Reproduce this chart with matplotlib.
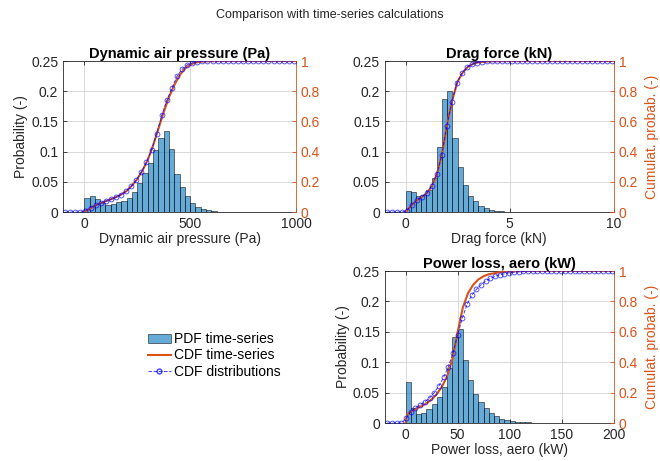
import matplotlib
matplotlib.use("Agg")
import matplotlib.pyplot as plt
from matplotlib.patches import Patch
from matplotlib.lines import Line2D

plt.rcParams['font.family'] = ['Liberation Sans', 'DejaVu Sans']
plt.rcParams['font.size'] = 10

# --- dynamic air pressure (Pa)
p1_bins = [0, 25, 50, 75, 100, 125, 150, 175, 200, 225, 250, 275, 300, 325,
           350, 375, 400, 425, 450, 475, 500, 525, 550, 575, 600, 625]
p1_pdf = [0.024, 0.026, 0.021, 0.015, 0.012, 0.013, 0.016, 0.019, 0.024, 0.034,
          0.048, 0.064, 0.081, 0.103, 0.122, 0.135, 0.104, 0.063, 0.042, 0.027,
          0.015, 0.009, 0.005, 0.003, 0.0015, 0.0008]
p1_cdf_x = [0, 25, 50, 75, 100, 125, 150, 175, 200, 225, 250, 275, 300, 325, 350,
            375, 400, 425, 450, 475, 500, 525, 550, 600, 700, 1000]
p1_cdf = [0, 0.02, 0.042, 0.058, 0.071, 0.084, 0.099, 0.116, 0.14, 0.175, 0.218,
          0.275, 0.345, 0.44, 0.55, 0.66, 0.76, 0.84, 0.905, 0.95, 0.976, 0.99,
          0.996, 0.999, 1, 1]
p1_dist_x = [-90, -66, -42, -18, 6, 30, 54, 78, 102, 126, 150, 174, 198, 222, 246,
             270, 294, 318, 342, 366, 390, 414, 438, 462, 486, 510, 534, 558, 582,
             606, 630, 654, 678, 702, 726, 750, 774, 798, 822, 846, 870, 894, 918,
             942, 966, 990]
p1_dist = [0, 0, 0, 0, 0.01, 0.03, 0.045, 0.059, 0.072, 0.084, 0.099, 0.115, 0.138,
           0.17, 0.21, 0.265, 0.33, 0.41, 0.52, 0.64, 0.74, 0.82, 0.9, 0.946, 0.975,
           0.988, 0.996, 0.999] + [1] * 18

# --- drag force (kN)
p2_bins = [0, 0.25, 0.5, 0.75, 1.0, 1.25, 1.5, 1.75, 2.0, 2.25, 2.5, 2.75, 3.0,
           3.25, 3.5, 3.75, 4.0, 4.25, 4.5, 4.75]
p2_pdf = [0.035, 0.034, 0.026, 0.028, 0.037, 0.056, 0.108, 0.187, 0.2, 0.122,
          0.074, 0.045, 0.027, 0.018, 0.01, 0.006, 0.004, 0.002, 0.001, 0.0005]
p2_cdf_x = [0, 0.25, 0.5, 0.75, 1.0, 1.25, 1.5, 1.75, 2.0, 2.25, 2.5, 2.75, 3.0,
            3.25, 3.5, 4.0, 5.0, 10.0]
p2_cdf = [0, 0.04, 0.072, 0.097, 0.122, 0.17, 0.25, 0.385, 0.585, 0.745, 0.865,
          0.925, 0.963, 0.982, 0.992, 0.998, 1, 1]
p2_dist_x = [-0.9, -0.66, -0.42, -0.18, 0.06, 0.3, 0.54, 0.78, 1.02, 1.26, 1.5,
             1.74, 1.98, 2.22, 2.46, 2.7, 2.94, 3.18, 3.42, 3.66, 3.9, 4.14, 4.38,
             4.62, 4.86, 5.1, 5.34, 5.58, 5.82, 6.06, 6.3, 6.54, 6.78, 7.02, 7.26,
             7.5, 7.74, 7.98, 8.22, 8.46, 8.7, 8.94, 9.18, 9.42, 9.66, 9.9]
p2_dist = [0, 0, 0, 0, 0.01, 0.05, 0.077, 0.1, 0.125, 0.175, 0.25, 0.38, 0.57,
           0.73, 0.855, 0.918, 0.958, 0.978, 0.99, 0.996, 0.999] + [1] * 25

# --- power loss, aero (kW)
p3_bins = [0, 5, 10, 15, 20, 25, 30, 35, 40, 45, 50, 55, 60, 65, 70, 75, 80, 85,
           90, 95, 100, 105, 110, 115, 120, 125]
p3_pdf = [0.067, 0.025, 0.015, 0.017, 0.023, 0.032, 0.042, 0.06, 0.09, 0.142,
          0.155, 0.104, 0.071, 0.048, 0.035, 0.025, 0.017, 0.011, 0.007, 0.005,
          0.003, 0.002, 0.0015, 0.001, 0.0006, 0.0004]
p3_cdf_x = [0, 0.5, 2, 5, 10, 15, 20, 25, 30, 35, 40, 45, 50, 55, 60, 65, 70, 75,
            80, 90, 100, 110, 120, 200]
p3_cdf = [0, 0.03, 0.06, 0.075, 0.095, 0.11, 0.13, 0.155, 0.19, 0.24, 0.31, 0.42,
          0.6, 0.76, 0.855, 0.91, 0.945, 0.966, 0.979, 0.992, 0.997, 0.999, 1, 1]
p3_dist_x = [-17.5, -13, -8.5, -4, 0.5, 5, 9.5, 14, 18.5, 23, 27.5, 32, 36.5, 41,
             45.5, 50, 54.5, 59, 63.5, 68, 72.5, 77, 81.5, 86, 90.5, 95, 99.5, 104,
             108.5, 113, 117.5, 122, 126.5, 131, 135.5, 140, 144.5, 149, 153.5, 158,
             162.5, 167, 171.5, 176, 180.5, 185, 189.5, 194, 198.5]
p3_dist = [0, 0, 0, 0, 0.03, 0.075, 0.1, 0.12, 0.14, 0.165, 0.2, 0.245, 0.3, 0.37,
           0.46, 0.58, 0.69, 0.78, 0.84, 0.88, 0.91, 0.935, 0.952, 0.965, 0.975,
           0.982, 0.988, 0.992, 0.995, 0.997, 0.998, 0.999, 0.9995] + [1] * 16

DARK = '#262626'
ORANGE = '#D95319'
BLUE = '#0072BD'


def panel(rect, bins, pdf, cx, cy, dx, dy, xlim, xticks, title, xlabel,
          left_label=True, right_label=True):
    ax = fig.add_axes(rect)
    width = bins[1] - bins[0]
    ax.bar(bins, pdf, width=width, align='edge', color=BLUE, alpha=0.6,
           edgecolor='black', linewidth=0.6, zorder=2)
    ax.set_xlim(xlim)
    ax.set_ylim(0, 0.25)
    ax.set_xticks(xticks)
    ax.set_yticks([0, 0.05, 0.1, 0.15, 0.2, 0.25])
    ax.set_yticklabels(['0', '0.05', '0.1', '0.15', '0.2', '0.25'])
    ax.grid(True, color='#d3d3d3', linewidth=0.6, zorder=0)
    ax.set_axisbelow(True)
    ax.tick_params(direction='in', colors=DARK, length=3, width=0.6)
    ax.tick_params(axis='x', top=True)
    for s in ['left', 'bottom', 'top']:
        ax.spines[s].set_color(DARK)
        ax.spines[s].set_linewidth(0.6)
    ax.spines['right'].set_visible(False)
    ax.set_title(title, fontweight='bold', fontsize=10.5, pad=2, color='black')
    ax.set_xlabel(xlabel, color=DARK, labelpad=1)
    if left_label:
        ax.set_ylabel('Probability (-)', color=DARK, labelpad=2)

    ax2 = ax.twinx()
    ax2.plot(cx, cy, color=ORANGE, linewidth=1.5, zorder=3)
    ax2.plot(dx, dy, '--o', color='blue', linewidth=0.7, markersize=3.5,
             markerfacecolor='none', markeredgewidth=0.6, alpha=0.75, zorder=4)
    ax2.set_ylim(0, 1)
    ax2.set_yticks([0, 0.2, 0.4, 0.6, 0.8, 1])
    ax2.set_yticklabels(['0', '0.2', '0.4', '0.6', '0.8', '1'])
    ax2.tick_params(direction='in', colors=ORANGE, length=3, width=0.6)
    for s in ['left', 'bottom', 'top']:
        ax2.spines[s].set_visible(False)
    ax2.spines['right'].set_color(ORANGE)
    ax2.spines['right'].set_linewidth(0.6)
    if right_label:
        ax2.set_ylabel('Cumulat. probab. (-)', color=ORANGE, labelpad=5)
    return ax


fig = plt.figure(figsize=(6.6, 4.61), dpi=100)
fig.suptitle('Comparison with time-series calculations', fontsize=9, y=0.98,
             color=DARK)

panel([0.0955, 0.540, 0.353, 0.3275], p1_bins, p1_pdf, p1_cdf_x, p1_cdf,
      p1_dist_x, p1_dist, (-100, 1000), [0, 500, 1000],
      'Dynamic air pressure (Pa)', 'Dynamic air pressure (Pa)',
      left_label=True, right_label=False)
panel([0.583, 0.540, 0.347, 0.3275], p2_bins, p2_pdf, p2_cdf_x, p2_cdf,
      p2_dist_x, p2_dist, (-1, 10), [0, 5, 10],
      'Drag force (kN)', 'Drag force (kN)', left_label=False, right_label=True)
panel([0.583, 0.0824, 0.347, 0.3297], p3_bins, p3_pdf, p3_cdf_x, p3_cdf,
      p3_dist_x, p3_dist, (-20, 200), [0, 50, 100, 150, 200],
      'Power loss, aero (kW)', 'Power loss, aero (kW)',
      left_label=True, right_label=True)

# legend sits in the empty lower-left slot
handles = [Patch(facecolor=BLUE, alpha=0.6, edgecolor='black', linewidth=0.6),
           Line2D([], [], color=ORANGE, linewidth=1.5),
           Line2D([], [], color='blue', linestyle='--', marker='o', markersize=3.5,
                  markerfacecolor='none', linewidth=0.7, alpha=0.75)]
labels = ['PDF time-series', 'CDF time-series', 'CDF distributions']
fig.legend(handles, labels, loc='upper left', bbox_to_anchor=(0.213, 0.294),
           frameon=False, borderpad=0, labelspacing=0.15, handlelength=1.7,
           handletextpad=0.2, fontsize=10)

fig.savefig('out.png', dpi=100)
